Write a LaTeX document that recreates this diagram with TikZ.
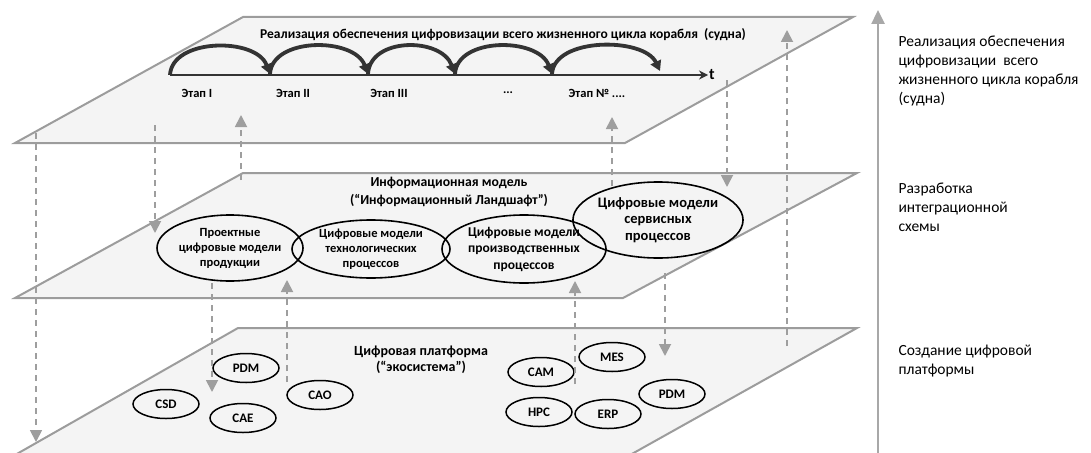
\documentclass[tikz,border=0pt]{standalone}
\usepackage{fontspec}
\setmainfont{Carlito}
\usetikzlibrary{arrows.meta,shapes.geometric}
\definecolor{planefill}{HTML}{F4F4F4}
\definecolor{planeedge}{HTML}{9C9C9C}
\definecolor{dashcol}{HTML}{9E9E9E}
\definecolor{arcdark}{HTML}{333333}
\definecolor{axiscol}{HTML}{A8A8A8}
\begin{document}
\begin{tikzpicture}[x=1pt,y=-1pt,
  plane/.style={fill=planefill,draw=planeedge,line width=2pt,line join=miter},
  link/.style={draw=dashcol,line width=1.8pt,dash pattern=on 6pt off 5pt,
    -{Triangle[length=12pt,width=12pt,fill=dashcol]}},
  model/.style={ellipse,draw=black,line width=1.6pt,align=center,inner sep=0pt},
  tool/.style={ellipse,draw=black,line width=1.5pt,inner sep=0pt,
    minimum width=66pt,minimum height=29pt,font=\bfseries\fontsize{13}{13}\selectfont},
  stagearc/.style={draw=arcdark,line width=3.8pt,
    -{Triangle[length=10pt,width=11pt,fill=arcdark]}},
  stagelbl/.style={font=\bfseries\fontsize{12.5}{13}\selectfont},
  sidetxt/.style={anchor=north west,align=left,font=\fontsize{15.5}{19}\selectfont}
]
\useasboundingbox (0,0) rectangle (1091,452);

% planes
\draw[plane] (15,143) -- (243,17) -- (853,17) -- (625,143) -- cycle;
\draw[plane] (15,298) -- (243,173) -- (857,173) -- (623,298) -- cycle;
\draw[plane] (15,455) -- (238,328) -- (857,328) -- (630,455) -- cycle;

% top plane
\node[font=\bfseries\fontsize{13.5}{15}\selectfont] (title) at (503,35)
  {Реализация обеспечения цифровизации всего жизненного цикла корабля\ \ (судна)};
\coordinate (s0) at (170,75);
\coordinate (s1) at (270,74);
\coordinate (s2) at (368,74);
\coordinate (s3) at (455,74);
\coordinate (s4) at (552,74);
\coordinate (s5) at (660,71);
\coordinate (tend) at (708,75);
\draw[arcdark,line width=1.6pt,-{Stealth[length=9pt,width=9pt]}] (s0) -- (tend);
\node[anchor=west,inner sep=1pt,font=\bfseries\fontsize{16}{16}\selectfont] (tlbl) at (tend) {t};
\draw[stagearc] (s0) .. controls +(2,-37) and +(-14,-37) .. (s1);
\draw[stagearc] (s1) .. controls +(2,-37) and +(-14,-37) .. (s2);
\draw[stagearc] (s2) .. controls +(2,-37) and +(-14,-37) .. (s3);
\draw[stagearc] (s3) .. controls +(2,-37) and +(-14,-37) .. (s4);
\draw[stagearc] (s4) .. controls +(2,-37) and +(-16,-34) .. (s5);
\node[stagelbl] (e1) at (197,93) {Этап I};
\node[stagelbl] (e2) at (293,93) {Этап II};
\node[stagelbl] (e3) at (389,93) {Этап III};
\node[stagelbl] (e4) at (508,93) {...};
\node[stagelbl] (e5) at (597,93) {Этап № ....};

% middle plane
\node[align=center,font=\bfseries\fontsize{13.7}{18}\selectfont] (infomod) at (449,192)
  {Информационная модель\\(“Информационный Ландшафт”)};
\node[model,minimum width=146pt,minimum height=66pt,font=\bfseries\fontsize{12.5}{15}\selectfont] (m1) at (230,248)
  {Проектные\\цифровые модели\\продукции};
\node[model,minimum width=158pt,minimum height=58pt,font=\bfseries\fontsize{12.5}{15}\selectfont] (m2) at (371,249)
  {Цифровые модели\\технологических\\процессов};
\node[model,minimum width=164pt,minimum height=68pt,font=\bfseries\fontsize{13.5}{16.5}\selectfont] (m3) at (524,249)
  {Цифровые модели\\производственных\\процессов};
\node[model,minimum width=150pt,minimum height=76pt,font=\bfseries\fontsize{14.5}{16.5}\selectfont] (m4) at (658,220)
  {Цифровые модели\\сервисных\\процессов};

% bottom plane
\node[align=center,font=\bfseries\fontsize{14}{16.5}\selectfont] (platform) at (421,360)
  {Цифровая платформа\\(“экосистема”)};
\node[tool] (pdm1) at (246,368) {PDM};
\node[tool] (csd) at (166,404) {CSD};
\node[tool] (cae) at (243,418) {CAE};
\node[tool] (cao) at (320,395) {CAO};
\node[tool] (cam) at (541,372) {CAM};
\node[tool] (mes) at (612,357) {MES};
\node[tool] (pdm2) at (672,394) {PDM};
\node[tool] (hpc) at (539,412) {HPC};
\node[tool] (erp) at (608,414) {ERP};

% dashed links between the planes
\coordinate (a1s) at (36,133);  \coordinate (a1e) at (36,442);
\coordinate (a2s) at (155,125); \coordinate (a2e) at (155,233);
\coordinate (a3s) at (241,180); \coordinate (a3e) at (241,115);
\coordinate (a4s) at (212,283); \coordinate (a4e) at (212,392);
\coordinate (a5s) at (287,382); \coordinate (a5e) at (287,280);
\coordinate (a6s) at (612,186); \coordinate (a6e) at (612,117);
\coordinate (a7s) at (727,80);  \coordinate (a7e) at (727,187);
\coordinate (a8s) at (787,346); \coordinate (a8e) at (787,30);
\coordinate (a9s) at (575,384); \coordinate (a9e) at (575,281);
\coordinate (a10s) at (665,273); \coordinate (a10e) at (665,356);
\foreach \i in {1,...,10} {\draw[link] (a\i s) -- (a\i e);}

% right axis
\coordinate (axb) at (878,455);
\coordinate (axt) at (878,10);
\draw[axiscol,line width=2.5pt,-{Triangle[length=14pt,width=13pt]}] (axb) -- (axt);
\node[sidetxt] (r1) at (895,32)
  {Реализация обеспечения\\цифровизации\ \ всего\\жизненного цикла корабля\\(судна)};
\node[sidetxt] (r2) at (895,179) {Разработка\\интеграционной\\схемы};
\node[sidetxt] (r3) at (895,341) {Создание цифровой\\платформы};
\end{tikzpicture}
\end{document}
